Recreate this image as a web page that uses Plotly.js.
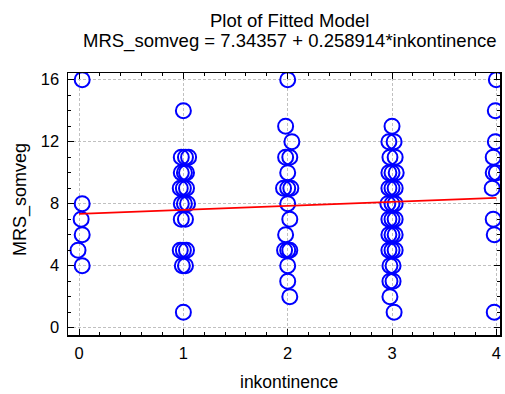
<!DOCTYPE html>
<html>
<head>
<meta charset="utf-8">
<script src="https://cdn.plot.ly/plotly-3.0.1.min.js"></script>
<style>html,body{margin:0;padding:0;background:#fff;}#chart{width:505px;height:394px;}</style>
</head>
<body>
<div id="chart"></div>
<script>
// observed points (inkontinence, MRS_somveg), slight horizontal jitter as in the picture
const obsX = [
  0.03, 0.03, 0.02, 0.03, -0.01, 0.03,
  1.00, 0.98, 1.02, 1.05, 0.98, 1.01, 1.03, 0.97, 1.00, 1.03, 0.98, 1.01, 1.04, 0.98, 1.02, 0.97, 1.00, 1.03, 0.99, 1.02, 1.00,
  2.00, 1.98, 2.04, 1.98, 2.02, 2.00, 1.96, 2.00, 2.03, 2.00, 2.02, 1.98, 1.97, 2.00, 2.02, 2.00, 2.00, 2.02,
  3.00, 2.97, 3.02, 2.98, 3.03, 2.97, 3.00, 3.04, 2.97, 3.00, 3.03, 2.96, 3.00, 3.03, 2.97, 3.00, 3.03, 2.97, 3.00, 3.03, 2.97, 3.00, 3.03, 2.98, 3.01, 2.98, 3.01, 2.98, 3.02,
  4.00, 3.99, 3.99, 3.97, 3.97, 4.00, 3.96, 3.97, 3.98, 3.98
];
const obsY = [
  16, 8, 7, 6, 5, 4,
  14, 11, 11, 11, 10, 10, 10, 9, 9, 9, 8, 8, 8, 7, 7, 5, 5, 5, 4, 4, 1,
  16, 13, 12, 11, 11, 10, 9, 9, 9, 8, 7, 6, 5, 5, 5, 4, 3, 2,
  13, 12, 12, 11, 11, 10, 10, 10, 9, 9, 9, 8, 8, 8, 7, 7, 7, 6, 6, 6, 5, 5, 5, 4, 4, 3, 3, 2, 1,
  16, 14, 12, 11, 10, 10, 9, 7, 6, 1
];
// fitted line
const fitX = [0, 1, 2, 3, 4];
const fitY = [7.34, 7.60, 7.86, 8.12, 8.38];

const titleLine1 = "Plot of Fitted Model";
const titleLine2 = "MRS_somveg = 7.34357 + 0.258914*inkontinence";
const xLabel = "inkontinence";
const yLabel = "MRS_somveg";
const xTicks = [0, 1, 2, 3, 4];
const yTicks = [0, 4, 8, 12, 16];

const FONT = "'Liberation Sans', Arial, sans-serif";

const traces = [
  {
    x: obsX, y: obsY, type: 'scatter', mode: 'markers',
    marker: {symbol: 'circle-open', size: 15, color: '#0000ff', line: {width: 2, color: '#0000ff'}},
    hoverinfo: 'skip', showlegend: false
  },
  {
    x: fitX, y: fitY, type: 'scatter', mode: 'lines',
    line: {color: '#ff0000', width: 1.8},
    hoverinfo: 'skip', showlegend: false
  }
];

const axisCommon = {
  showline: true, linecolor: '#000', linewidth: 1.5, mirror: 'allticks',
  ticks: 'inside', ticklen: 6, tickcolor: '#000', tickwidth: 1,
  showgrid: true, gridcolor: '#c0c0c0', gridwidth: 1, griddash: '3px,2px',
  zeroline: false,
  tickfont: {family: FONT, size: 16.5, color: '#000'}
};

const annFont = (s) => ({family: FONT, size: s, color: '#000'});

const layout = {
  width: 505, height: 394,
  paper_bgcolor: '#fff', plot_bgcolor: '#fff',
  margin: {l: 68, r: 5, t: 73, b: 59},
  font: {family: FONT, color: '#000'},
  xaxis: Object.assign({}, axisCommon, {
    range: [-0.106, 4.035], tickvals: xTicks, ticktext: xTicks.map(String),
    ticklabelstandoff: 3,
    minor: {dtick: 0.2, ticks: 'inside', ticklen: 3, tickcolor: '#000', showgrid: false}
  }),
  yaxis: Object.assign({}, axisCommon, {
    range: [-0.47, 16.43], tickvals: yTicks, ticktext: yTicks.map(String),
    ticklabelstandoff: 4,
    minor: {dtick: 1, ticks: 'inside', ticklen: 3, tickcolor: '#000', showgrid: false}
  }),
  annotations: [
    {text: titleLine1, xref: 'paper', yref: 'paper', x: 0.5116, y: 1.1985, xanchor: 'center', yanchor: 'middle', showarrow: false, font: annFont(18.5)},
    {text: titleLine2, xref: 'paper', yref: 'paper', x: 0.5116, y: 1.1221, xanchor: 'center', yanchor: 'middle', showarrow: false, font: annFont(18.5)},
    {text: xLabel, xref: 'paper', yref: 'paper', x: 0.5116, y: -0.178, xanchor: 'center', yanchor: 'middle', showarrow: false, font: annFont(17.5)},
    {text: yLabel, xref: 'paper', yref: 'paper', x: -0.111, y: 0.515, xanchor: 'center', yanchor: 'middle', textangle: -90, showarrow: false, font: annFont(18)}
  ]
};

Plotly.newPlot('chart', traces, layout, {staticPlot: true, displayModeBar: false});
</script>
</body>
</html>
